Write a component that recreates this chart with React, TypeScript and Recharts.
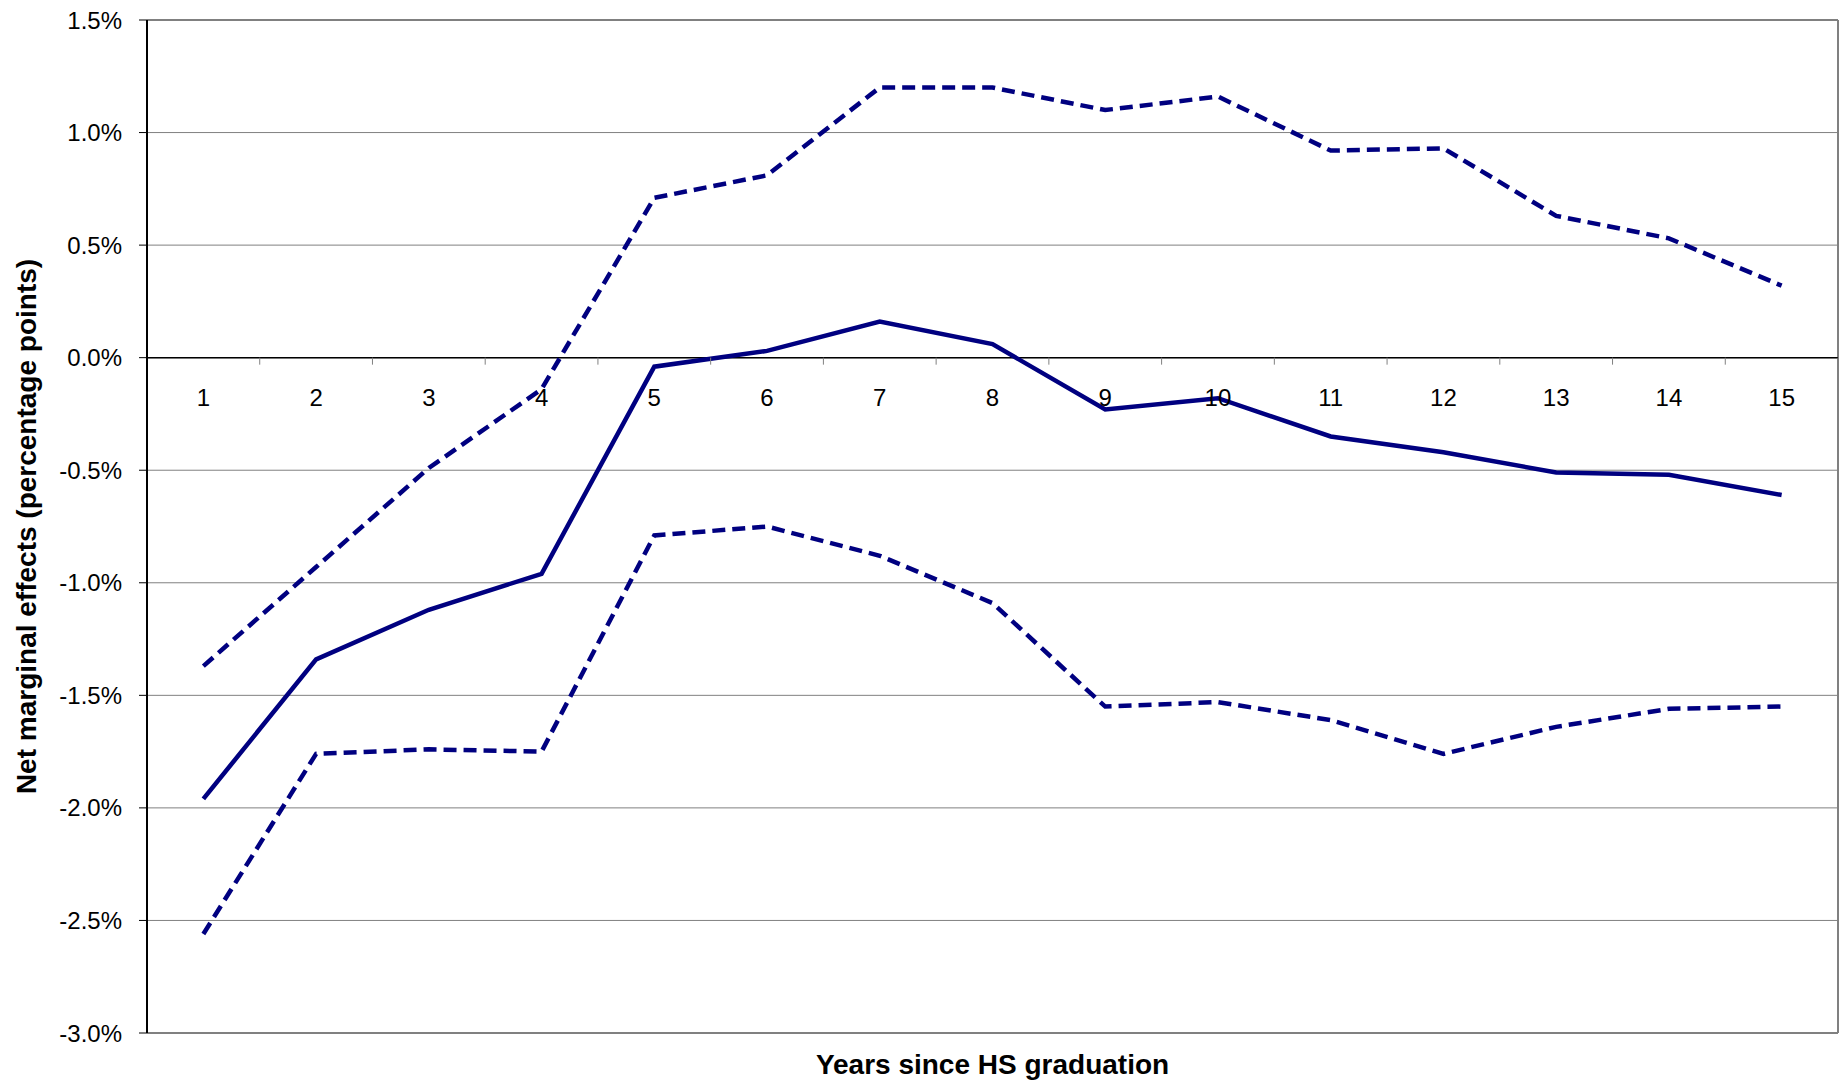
import React from 'react';
import {
  LineChart,
  Line,
  XAxis,
  YAxis,
  CartesianGrid,
  ReferenceLine,
  Label
} from 'recharts';

const years = [1, 2, 3, 4, 5, 6, 7, 8, 9, 10, 11, 12, 13, 14, 15];
const estimate = [-1.96, -1.34, -1.12, -0.96, -0.04, 0.03, 0.16, 0.06, -0.23, -0.18, -0.35, -0.42, -0.51, -0.52, -0.61];
const upperBound = [-1.37, -0.93, -0.49, -0.14, 0.71, 0.81, 1.2, 1.2, 1.1, 1.16, 0.92, 0.93, 0.63, 0.53, 0.32];
const lowerBound = [-2.56, -1.76, -1.74, -1.75, -0.79, -0.75, -0.88, -1.09, -1.55, -1.53, -1.61, -1.76, -1.64, -1.56, -1.55];
const yTicks = [-3, -2.5, -2, -1.5, -1, -0.5, 0, 0.5, 1, 1.5];

const Y_MIN = -3;
const Y_MAX = 1.5;

const data = years.map((yr, i) => ({
  year: yr,
  est: estimate[i],
  hi: upperBound[i],
  lo: lowerBound[i]
}));

const W = 1844;
const H = 1081;
const M = { top: 20, right: 6, bottom: 0, left: 0 };
const Y_AXIS_W = 147;
const X_AXIS_H = 48;
const PLOT_W = W - M.left - M.right - Y_AXIS_W;
const PLOT_H = H - M.top - M.bottom - X_AXIS_H;

const NAVY = '#000080';
const FONT = '"Liberation Sans", Arial, sans-serif';

// category labels sit just under the zero line, tick marks between categories
const YearTick = (props: any) => {
  const { x, y, payload } = props;
  const zeroY = y - (PLOT_H * (0 - Y_MIN)) / (Y_MAX - Y_MIN);
  const half = PLOT_W / years.length / 2;
  return (
    <g>
      <line x1={x + half} x2={x + half} y1={zeroY} y2={zeroY + 7} stroke="#808080" strokeWidth={1} />
      <text x={x} y={zeroY + 48} textAnchor="middle" fontSize={24} fontFamily={FONT} fill="#000">
        {payload.value}
      </text>
    </g>
  );
};

const App: React.FC = () => {
  return (
    <div style={{ position: 'absolute', left: 0, top: 0, width: W, height: H, background: '#fff' }}>
      <LineChart width={W} height={H} data={data} margin={M}>
        <CartesianGrid horizontal vertical={false} stroke="#808080" strokeWidth={1} />
        <XAxis
          dataKey="year"
          type="number"
          domain={[0.5, 15.5]}
          ticks={years}
          height={X_AXIS_H}
          axisLine={false}
          tickLine={false}
          tickSize={0}
          tickMargin={0}
          tick={<YearTick />}
          interval={0}
        >
          <Label
            value="Years since HS graduation"
            position="center"
            dy={7}
            style={{ fontSize: 28, fontWeight: 700, fontFamily: FONT, fill: '#000' }}
          />
        </XAxis>
        <YAxis
          width={Y_AXIS_W}
          domain={[Y_MIN, Y_MAX]}
          ticks={yTicks}
          interval={0}
          tickFormatter={(v: number) => `${v.toFixed(1)}%`}
          tick={{ fontSize: 24, fontFamily: FONT, fill: '#000' }}
          tickSize={8}
          tickMargin={17}
          axisLine={{ stroke: '#000', strokeWidth: 2 }}
          tickLine={{ stroke: '#000', strokeWidth: 1 }}
        >
          <Label
            value="Net marginal effects (percentage points)"
            angle={-90}
            position="center"
            dx={-47}
            style={{ fontSize: 28, fontWeight: 700, fontFamily: FONT, fill: '#000', textAnchor: 'middle' }}
          />
        </YAxis>
        <ReferenceLine y={Y_MAX} stroke="#808080" strokeWidth={2} />
        <ReferenceLine y={Y_MIN} stroke="#808080" strokeWidth={2} />
        <ReferenceLine x={15.5} stroke="#808080" strokeWidth={2} />
        <ReferenceLine y={0} stroke="#000" strokeWidth={1.5} />
        <Line type="linear" dataKey="hi" stroke={NAVY} strokeWidth={4.5} strokeDasharray="13 7" dot={false} isAnimationActive={false} />
        <Line type="linear" dataKey="lo" stroke={NAVY} strokeWidth={4.5} strokeDasharray="13 7" dot={false} isAnimationActive={false} />
        <Line type="linear" dataKey="est" stroke={NAVY} strokeWidth={4.5} dot={false} isAnimationActive={false} />
      </LineChart>
    </div>
  );
};

export default App;
